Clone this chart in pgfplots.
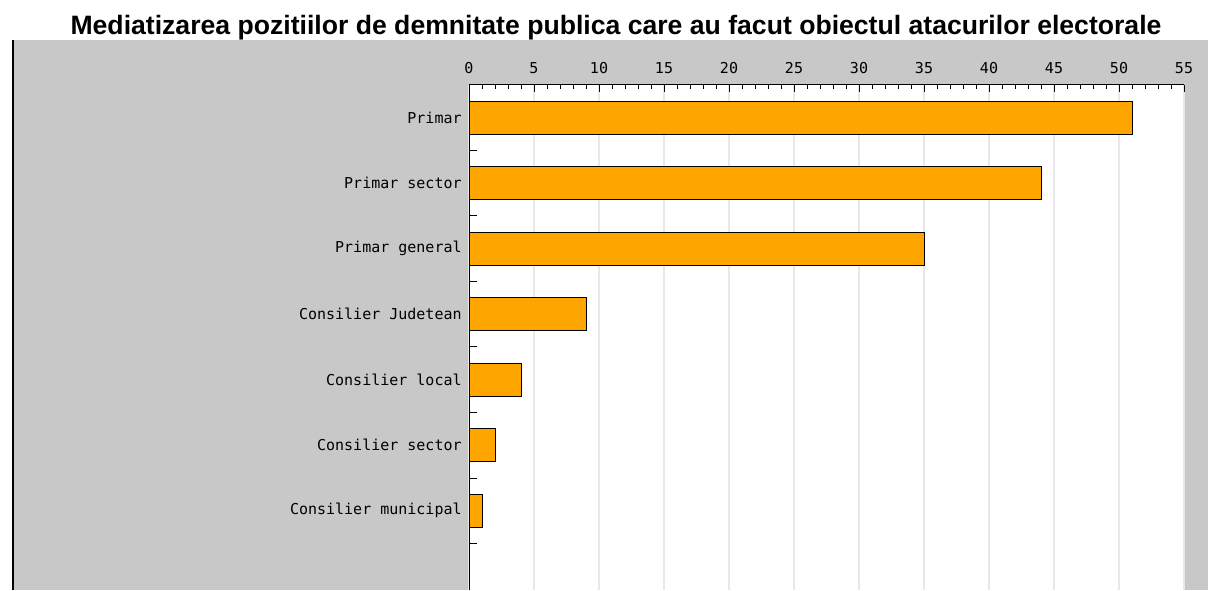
\documentclass[border=0pt]{standalone}
\usepackage{fontspec}
\setmainfont{Liberation Sans}
\newfontfamily\monofont{DejaVu Sans Mono}
\usepackage{pgfplots}
\pgfplotsset{compat=1.18}
\definecolor{panel}{RGB}{200,200,200}
\definecolor{barorange}{RGB}{255,165,0}
\definecolor{gridc}{RGB}{232,232,232}
\begin{document}
\begin{tikzpicture}[x=1pt,y=1pt]
\useasboundingbox (0,0) rectangle (604,295);
\fill[white] (0,0) rectangle (604,295);
\fill[panel] (6,0) rectangle (604,275);
\draw[black, line width=0.8pt] (6.4,0) -- (6.4,275);
\node[font=\bfseries\fontsize{13.3}{15}\selectfont, anchor=base, inner sep=0pt] at (308,277.5) {Mediatizarea pozitiilor de demnitate publica care au facut obiectul atacurilor electorale};
\begin{axis}[
  at={(234.5pt,0pt)}, anchor=south west,
  scale only axis, width=357.5pt, height=252.5pt,
  xmin=0, xmax=55, ymin=-1.21, ymax=6.5,
  axis x line*=top, axis y line*=left,
  axis line style={line width=0.5pt, black},
  axis background/.style={fill=white},
  xtick={0,5,...,55},
  minor x tick num=4,
  tick align=inside,
  major tick length=3.5pt,
  minor tick length=2pt,
  xmajorgrids,
  grid style={gridc, line width=0.6pt},
  ytick={0,...,6},
  yticklabels={Consilier municipal,Consilier sector,Consilier local,Consilier Judetean,Primar general,Primar sector,Primar},
  ytick style={draw=none},
  extra y ticks={-0.5,0.5,1.5,2.5,3.5,4.5,5.5},
  extra y tick labels={},
  extra y tick style={ytick style={draw=black}, major tick length=4pt},
  /pgf/number format/assume math mode=true,
  ticklabel style={font=\monofont\fontsize{7.5}{9}\selectfont, text=black},
  yticklabel style={inner sep=0pt, xshift=-3.5pt},
  xticklabel style={inner sep=0pt, yshift=5.5pt},
  tick style={black, line width=0.5pt},
]
\addplot[xbar, bar width=16.5pt, fill=barorange, draw=black, line width=0.5pt] coordinates {
(51,6) (44,5) (35,4) (9,3) (4,2) (2,1) (1,0)
};
\end{axis}
\end{tikzpicture}
\end{document}
